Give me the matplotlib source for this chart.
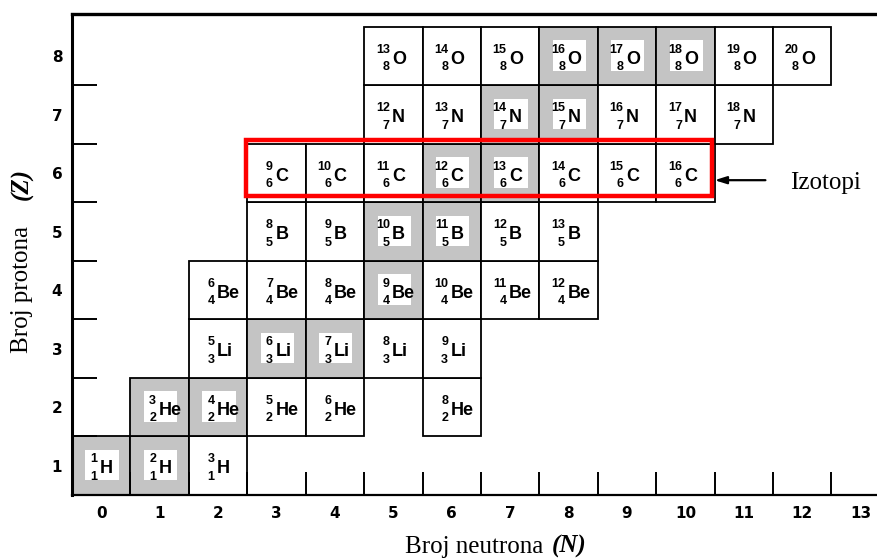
import matplotlib
matplotlib.use('Agg')
import matplotlib.pyplot as plt
from matplotlib.patches import Rectangle

# Chart of light nuclides: symbol per proton number Z, neutron numbers present
elements = ['H', 'He', 'Li', 'Be', 'B', 'C', 'N', 'O']
proton_numbers = [1, 2, 3, 4, 5, 6, 7, 8]
neutrons_by_z = [
    [0, 1, 2],
    [1, 2, 3, 4, 6],
    [2, 3, 4, 5, 6],
    [2, 3, 4, 5, 6, 7, 8],
    [3, 4, 5, 6, 7, 8],
    [3, 4, 5, 6, 7, 8, 9, 10],
    [5, 6, 7, 8, 9, 10, 11],
    [5, 6, 7, 8, 9, 10, 11, 12],
]
# stable nuclides as (Z, N)
stable = [(1, 0), (1, 1), (2, 1), (2, 2), (3, 3), (3, 4), (4, 5), (5, 5),
          (5, 6), (6, 6), (6, 7), (7, 7), (7, 8), (8, 8), (8, 9), (8, 10)]

x_ticks = list(range(0, 14))
y_ticks = list(range(1, 9))

# highlighted isotope row (carbon)
highlight_z = 6
highlight_n = [3, 10]

CELL_FONT = 'Liberation Sans'

fig = plt.figure(figsize=(8.77, 5.59), dpi=100)
ax = fig.add_axes([72 / 877, 1 - 495 / 559, 1 - 72 / 877, (495 - 14) / 559])
ax.set_xlim(-0.5, 13.28)
ax.set_ylim(0.5, 8.72)

for sym, z, ns in zip(elements, proton_numbers, neutrons_by_z):
    for n in ns:
        is_stable = (z, n) in stable
        ax.add_patch(Rectangle((n - 0.5, z - 0.5), 1, 1,
                               facecolor='#c4c4c4' if is_stable else 'white',
                               edgecolor='black', linewidth=1.3, zorder=1))
        if is_stable:
            ax.add_patch(Rectangle((n - 0.27, z - 0.25), 0.57, 0.52,
                                   facecolor='white', edgecolor='none', zorder=1.1))
        ax.text(n - 0.02, z - 0.13, sym, ha='left', va='baseline', family=CELL_FONT,
                fontsize=13, fontweight='bold', zorder=3)
        ax.text(n - 0.06, z + 0.06, str(z + n), ha='right', va='baseline',
                family=CELL_FONT, fontsize=9, fontweight='bold', zorder=3)
        ax.text(n - 0.06, z - 0.24, str(z), ha='right', va='baseline',
                family=CELL_FONT, fontsize=9, fontweight='bold', zorder=3)

# red box around the carbon isotopes
ax.add_patch(Rectangle((highlight_n[0] - 0.53, highlight_z - 0.39),
                       highlight_n[1] - highlight_n[0] + 0.99, 0.95,
                       facecolor='none', edgecolor='#ff0000', linewidth=3.2, zorder=4))
ax.annotate('', xy=(10.5, 5.88), xytext=(11.37, 5.88),
            arrowprops=dict(arrowstyle='-|>,head_length=0.7,head_width=0.22',
                            color='black', lw=1.6, shrinkA=0, shrinkB=0), zorder=5)
ax.text(11.8, 5.83, 'Izotopi', family='Liberation Serif', fontsize=18,
        ha='left', va='center')

ax.set_xticks(x_ticks)
ax.set_yticks(y_ticks)
ax.set_xticks([n + 0.5 for n in range(0, 13)], minor=True)
ax.set_yticks([z + 0.5 for z in range(1, 8)], minor=True)
ax.tick_params(which='major', length=0)
ax.tick_params(axis='x', which='major', pad=8, labelsize=11)
ax.tick_params(axis='y', which='major', pad=7, labelsize=11)
ax.tick_params(axis='x', which='minor', direction='in', length=16.5, width=1.4)
ax.tick_params(axis='y', which='minor', direction='in', length=18, width=1.4)
for lab in ax.get_xticklabels() + ax.get_yticklabels():
    lab.set_fontweight('bold')

ax.spines['right'].set_visible(False)
ax.spines['top'].set_linewidth(2.4)
ax.spines['left'].set_linewidth(2.2)
ax.spines['bottom'].set_linewidth(1.6)

# axis titles in serif with bold italic symbol
fig.text(405 / 877, 1 - 553 / 559, 'Broj neutrona', family='Liberation Serif',
         fontsize=18, ha='left', va='baseline')
fig.text(552 / 877, 1 - 553 / 559, '(N)', family='Liberation Serif',
         fontsize=18, fontweight='bold', style='italic', ha='left', va='baseline')
fig.text(28 / 877, 1 - 353 / 559, 'Broj protona', family='Liberation Serif',
         fontsize=18, rotation=90, rotation_mode='anchor', ha='left', va='baseline')
fig.text(28 / 877, 1 - 200 / 559, '(Z)', family='Liberation Serif',
         fontsize=18, fontweight='bold', style='italic', rotation=90,
         rotation_mode='anchor', ha='left', va='baseline')

fig.savefig('out.png', dpi=100)
